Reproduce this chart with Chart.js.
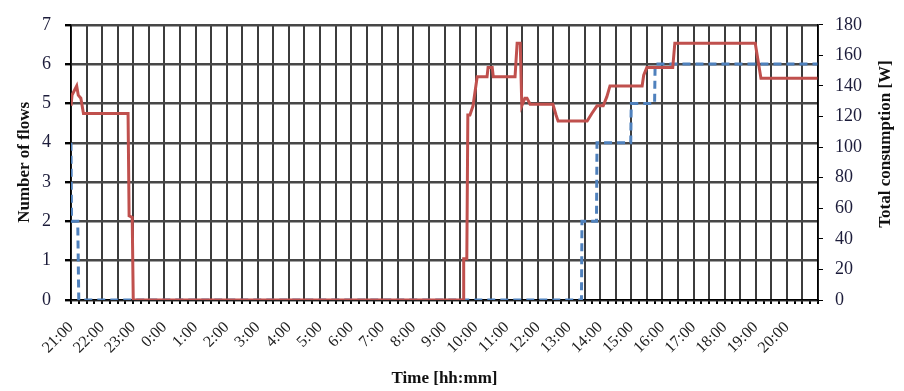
<!DOCTYPE html>
<html lang="en">
<head>
  <meta charset="UTF-8" />
  <title>Flows and consumption</title>
  <script src="https://cdn.jsdelivr.net/npm/chart.js"></script>
  <style>
    html, body { margin: 0; padding: 0; background: #fff; }
    #wrap { width: 904px; height: 391px; }
  </style>
</head>
<body>
  <div id="wrap"><canvas id="chart" width="904" height="391"></canvas></div>

  <script>
    // hour labels on the time axis (21:00 .. 20:00)
    const hourLabels = ['21:00', '22:00', '23:00', '0:00', '1:00', '2:00', '3:00', '4:00', '5:00', '6:00', '7:00', '8:00',
      '9:00', '10:00', '11:00', '12:00', '13:00', '14:00', '15:00', '16:00', '17:00', '18:00', '19:00', '20:00'];

    // total consumption [W] (right axis)
    const powerTimes = ['21:00', '21:02', '21:08', '21:11', '21:14', '21:19', '21:24', '22:50', '22:52', '22:58', '23:00',
      '9:36', '9:37', '9:43', '9:45', '9:49', '9:55', '10:03', '10:22', '10:24', '10:32', '10:34', '11:16', '11:20', '11:26',
      '11:29', '11:35', '11:39', '11:45', '12:29', '12:35', '12:39', '13:35', '13:44', '13:54', '14:06', '14:13', '14:19',
      '15:21', '15:24', '15:30', '16:20', '16:24', '18:59', '19:10', '20:59'];
    const powerWatts = [127, 134, 138, 140, 134, 132, 122, 122, 55, 54, 0,
      0, 27, 27, 121, 121, 127, 146, 146, 152, 152, 146, 146, 168, 168,
      127, 132, 132, 128, 128, 121, 117, 117, 122, 127, 127, 133, 140,
      140, 147, 152, 152, 168, 168, 145, 145];

    // number of flows (left axis)
    const flowTimes = ['21:00', '21:01', '21:13', '21:15', '13:24', '13:25', '13:53', '13:54', '14:59', '15:00', '15:45', '15:46', '20:59'];
    const flowCounts = [4, 2, 2, 0, 0, 2, 2, 4, 4, 5, 5, 6, 6];

    // minutes since 21:00
    function toMin(t) {
      const [h, m] = t.split(':').map(Number);
      return ((h - 21 + 24) % 24) * 60 + m;
    }

    const serif = "'Liberation Serif', 'Times New Roman', serif";
    const tickColor = '#1c1c3a';

    // draws the right axis title so it reads bottom-to-top like the original
    const rightTitle = {
      id: 'rightTitle',
      afterDraw(chart) {
        const ctx = chart.ctx;
        ctx.save();
        ctx.translate(886, 144);
        ctx.rotate(-Math.PI / 2);
        ctx.font = 'bold 17px ' + serif;
        ctx.fillStyle = '#111';
        ctx.textAlign = 'center';
        ctx.textBaseline = 'middle';
        ctx.fillText('Total consumption [W]', 0, 0);
        ctx.restore();
      }
    };

    new Chart(document.getElementById('chart'), {
      type: 'line',
      data: {
        datasets: [
          {
            label: 'Total consumption',
            data: powerTimes.map((t, i) => ({ x: toMin(t), y: powerWatts[i] })),
            yAxisID: 'yW',
            borderColor: '#c0504d',
            borderWidth: 3,
            pointRadius: 0,
            tension: 0
          },
          {
            label: 'Number of flows',
            data: flowTimes.map((t, i) => ({ x: toMin(t), y: flowCounts[i] })),
            yAxisID: 'yN',
            borderColor: '#4f81bd',
            borderWidth: 3,
            borderDash: [8, 5],
            pointRadius: 0,
            tension: 0
          }
        ]
      },
      options: {
        responsive: false,
        animation: false,
        layout: { padding: { top: 13, left: 0, right: 0, bottom: 0 } },
        plugins: { legend: { display: false }, tooltip: { enabled: false } },
        scales: {
          x: {
            type: 'linear',
            min: 0,
            max: 1440,
            afterFit(scale) { scale.height = 91; },
            afterBuildTicks(scale) {
              const t = [];
              for (let v = 0; v <= 1440; v += 15) t.push({ value: v });
              scale.ticks = t;
            },
            ticks: {
              autoSkip: false,
              minRotation: 45,
              maxRotation: 45,
              padding: 14,
              color: '#222',
              font: { family: serif, size: 16 },
              callback: v => (v % 60 === 0 && v < 1440) ? hourLabels[v / 60] : ''
            },
            grid: {
              color: ctx => (ctx.tick && ctx.tick.value % 30 === 0) ? '#3c3c3c' : 'rgba(0,0,0,0)',
              lineWidth: 2,
              tickColor: '#000',
              tickLength: 4
            },
            border: { color: '#000', width: 1.5 },
            title: {
              display: true,
              text: 'Time [hh:mm]',
              color: '#111',
              font: { family: serif, size: 17, weight: 'bold' },
              padding: { top: 0, bottom: 2 }
            }
          },
          yN: {
            position: 'left',
            min: 0,
            max: 7,
            afterFit(scale) { scale.width = 71; },
            ticks: {
              stepSize: 1,
              padding: 14,
              color: tickColor,
              font: { family: serif, size: 18 }
            },
            grid: { color: '#474747', lineWidth: 2.4, tickColor: '#000', tickLength: 6 },
            border: { color: '#000', width: 1.5 },
            title: {
              display: true,
              text: 'Number of flows',
              color: '#111',
              font: { family: serif, size: 17, weight: 'bold' },
              padding: { top: 14, bottom: 0 }
            }
          },
          yW: {
            position: 'right',
            min: 0,
            max: 180,
            afterFit(scale) { scale.width = 86; },
            ticks: {
              stepSize: 20,
              padding: 12,
              color: tickColor,
              font: { family: serif, size: 18 }
            },
            grid: { drawOnChartArea: false, tickColor: '#000', tickLength: 5 },
            border: { color: '#000', width: 1.5 }
          }
        }
      },
      plugins: [rightTitle]
    });
  </script>
</body>
</html>
